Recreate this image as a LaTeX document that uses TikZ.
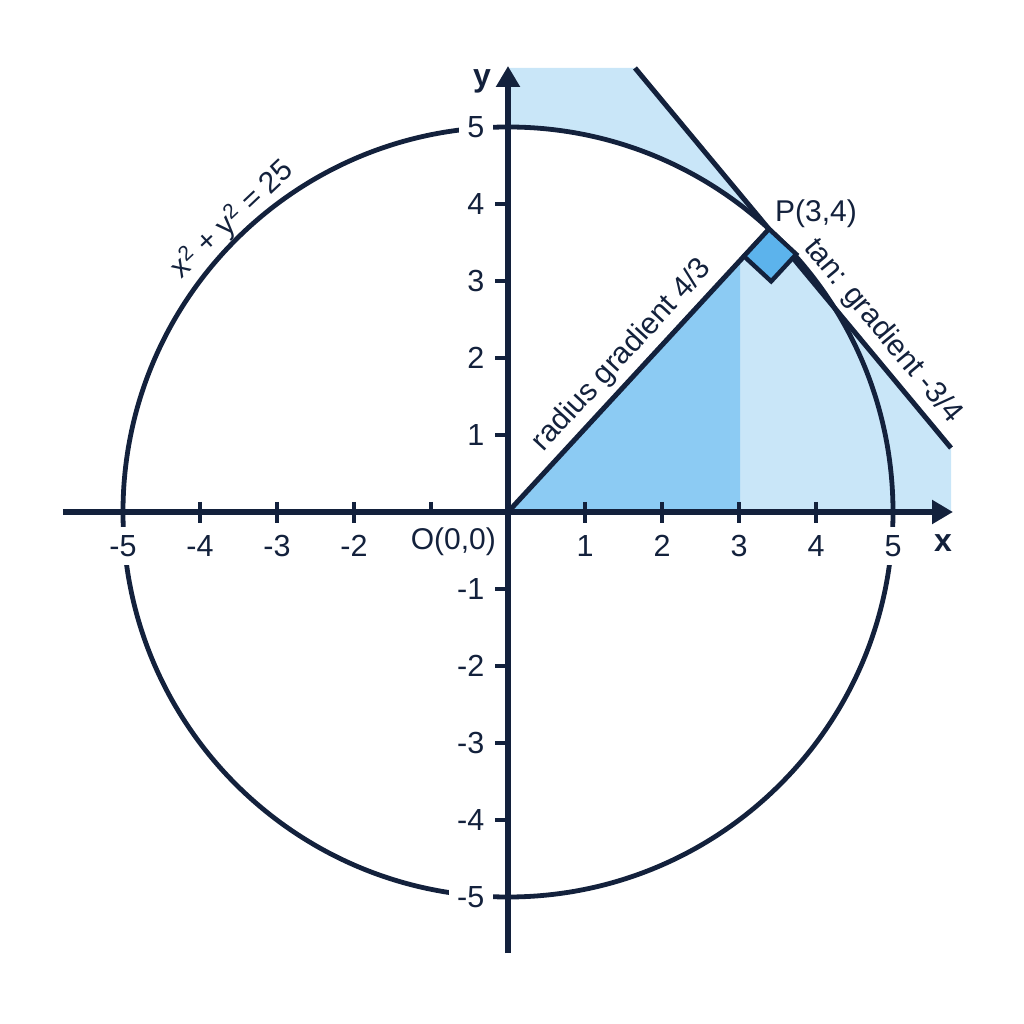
\documentclass[tikz,border=0pt]{standalone}
\usepackage{fontspec}
\setmainfont{Liberation Sans}
\usetikzlibrary{arrows.meta,calc}
\definecolor{navy}{HTML}{13213C}
\definecolor{lightfill}{HTML}{C9E6F8}
\definecolor{midfill}{HTML}{8CCBF3}
\definecolor{sqfill}{HTML}{5CB3EC}
\begin{document}
\begin{tikzpicture}[x=1pt,y=1pt,
  axisline/.style={navy, line width=5.4pt},
  tickline/.style={navy, line width=4pt},
  ticklabel/.style={font=\fontsize{30.5}{34}\selectfont, text=navy, fill=white, inner sep=8.5pt},
  curvelabel/.style={font=\fontsize{30}{34}\selectfont, text=navy},
  axistip/.style={-{Triangle[length=21pt,width=23pt]}},
]
\useasboundingbox (-508,-512) rectangle (516,512);
\coordinate (O) at (0,0);
\coordinate (P) at (47.3:385);
\coordinate (T1) at (127,444);
\coordinate (T2) at (443,64);
\coordinate (F) at (232,0);
\coordinate (Fp) at (232,251.4);
\coordinate (xl) at (-445,0);
\coordinate (xr) at (445,0);
\coordinate (yb) at (0,-441);
\coordinate (yt) at (0,446);
% fills
\fill[lightfill] (O) -- (0,444) -- (T1) -- (T2) -- (443,0) -- cycle;
\fill[white] (O) -- (0,385) arc[start angle=90,end angle=47.3,radius=385] -- cycle;
\fill[midfill] (O) -- (F) -- (Fp) -- cycle;
% circle
\draw[navy, line width=4.8pt] (O) circle[radius=385];
% axes
\draw[axisline, axistip] (xl) -- (xr);
\draw[axisline, axistip] (yb) -- (yt);
% ticks
\foreach \k in {-5,-4,-3,-2,1,2,3,4,5}
  \draw[tickline] (\k*77,10) -- (\k*77,-11);
\draw[tickline] (-77,10) -- (-77,0);
\foreach \k in {-5,-4,-3,-2,-1,1,2,3,4,5}
  \draw[tickline] (-13,\k*77) -- (0,\k*77);
% radius and tangent
\draw[navy, line width=5pt] (O) -- (P)
  node[curvelabel, sloped, above, pos=0.5, inner sep=5.5pt] {radius gradient 4/3};
\draw[navy, line width=5pt] (T1) -- (T2)
  node[curvelabel, sloped, above, pos=0.73, inner sep=5.5pt] {tan: gradient -3/4};
% right-angle square
\coordinate (Sa) at ($(P)!37pt!(O)$);
\coordinate (Sb) at ($(P)!37pt!90:(O)$);
\coordinate (Sc) at ($(Sa)+(Sb)-(P)$);
\filldraw[fill=sqfill, draw=navy, line width=4.4pt, line join=miter] (P) -- (Sa) -- (Sc) -- (Sb) -- cycle;
% labels
\foreach \k/\t in {-5/-5,-4/-4,-3/-3,-2/-2,1/1,2/2,3/3,4/4,5/5}
  \node[ticklabel] (xt\k) at (\k*77,-34) {\t};
\foreach \k/\t in {-5/-5,-4/-4,-3/-3,-2/-2,-1/-1,1/1,2/2,3/3,4/4,5/5}
  \node[ticklabel, anchor=east] (yt\k) at (-15,\k*77) {\t};
\node[font=\fontsize{30}{34}\selectfont, text=navy, anchor=base east, inner sep=0pt] (olab) at (-12,-38) {O(0,0)};
\node[font=\fontsize{32}{36}\selectfont\bfseries, text=navy] (xlab) at (435,-31) {x};
\node[font=\fontsize{32}{36}\selectfont\bfseries, text=navy] (ylab) at (-26,431) {y};
\node[font=\fontsize{30}{34}\selectfont, text=navy, anchor=base, inner sep=0pt] (plab) at (308,290) {P(3,4)};
\node[curvelabel, rotate=43.3] (clab) at (133.3:402) {x\textsuperscript{2} + y\textsuperscript{2} = 25};
\end{tikzpicture}
\end{document}
